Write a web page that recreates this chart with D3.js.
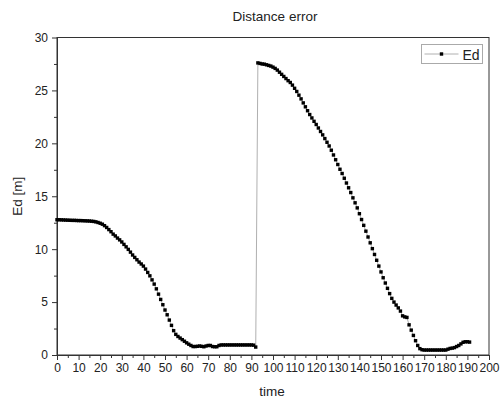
<!DOCTYPE html>
<html>
<head>
<meta charset="utf-8">
<script src="https://cdn.jsdelivr.net/npm/d3@7"></script>
<style>
  body { margin: 0; background: #fff; }
  svg { font-family: "Liberation Sans", Arial, sans-serif; }
</style>
</head>
<body>
<svg id="chart"></svg>
<script>
const width = 500;
const height = 400;

// time starts at 0, one sample per time step
const startTime = 0;
const edValues = [
  12.78, 12.78, 12.77, 12.76, 12.75, 12.74, 12.73, 12.72, 12.72, 12.71,
  12.70, 12.70, 12.69, 12.68, 12.67, 12.66, 12.64, 12.62, 12.58, 12.52,
  12.45, 12.36, 12.22, 12.05, 11.85, 11.65, 11.42, 11.25, 11.05, 10.88,
  10.68, 10.45, 10.22, 9.98, 9.72, 9.45, 9.22, 9.00, 8.78, 8.60,
  8.40, 8.12, 7.80, 7.48, 7.10, 6.70, 6.25, 5.75, 5.25, 4.75,
  4.25, 3.80, 3.30, 2.80, 2.30, 1.95, 1.75, 1.60, 1.45, 1.30,
  1.15, 1.02, 0.90, 0.80, 0.80, 0.82, 0.85, 0.82, 0.78, 0.85,
  0.90, 0.90, 0.80, 0.78, 0.78, 0.90, 0.95, 0.95, 0.95, 0.95,
  0.95, 0.95, 0.95, 0.95, 0.95, 0.95, 0.95, 0.95, 0.95, 0.95,
  0.95, 0.93, 0.75, 27.60, 27.55, 27.50, 27.48, 27.42, 27.36, 27.30,
  27.20, 27.08, 26.92, 26.72, 26.52, 26.32, 26.12, 25.92, 25.75, 25.50,
  25.20, 24.90, 24.55, 24.20, 23.82, 23.45, 23.08, 22.72, 22.40, 22.08,
  21.78, 21.45, 21.12, 20.80, 20.45, 20.10, 19.75, 19.35, 18.90, 18.45,
  18.00, 17.55, 17.15, 16.70, 16.25, 15.80, 15.35, 14.85, 14.38, 13.90,
  13.35, 12.80, 12.25, 11.70, 11.15, 10.60, 10.05, 9.50, 8.95, 8.40,
  7.85, 7.30, 6.80, 6.30, 5.80, 5.35, 5.00, 4.72, 4.45, 4.15,
  3.70, 3.60, 3.55, 2.85, 2.35, 1.85, 1.35, 0.90, 0.60, 0.50,
  0.47, 0.47, 0.47, 0.47, 0.47, 0.47, 0.47, 0.47, 0.47, 0.47,
  0.47, 0.55, 0.62, 0.65, 0.70, 0.80, 0.90, 1.05, 1.20, 1.25,
  1.25, 1.22
];

const xMajorTicks = [0, 10, 20, 30, 40, 50, 60, 70, 80, 90, 100, 110, 120, 130, 140, 150, 160, 170, 180, 190, 200];
const xMinorTicks = [5, 15, 25, 35, 45, 55, 65, 75, 85, 95, 105, 115, 125, 135, 145, 155, 165, 175, 185, 195];
const yMajorTicks = [0, 5, 10, 15, 20, 25, 30];
const yMinorTicks = [2.5, 7.5, 12.5, 17.5, 22.5, 27.5];

const data = edValues.map((v, i) => ({ t: startTime + i, v: v }));

const margin = { left: 57, right: 11, top: 37.5, bottom: 45 };

const svg = d3.select("#chart")
    .attr("width", width)
    .attr("height", height);

const x = d3.scaleLinear().domain([0, 200]).range([margin.left, width - margin.right]);
const y = d3.scaleLinear().domain([0, 30]).range([height - margin.bottom, margin.top]);

// frame
svg.append("rect")
    .attr("x", x(0))
    .attr("y", y(30))
    .attr("width", x(200) - x(0))
    .attr("height", y(0) - y(30))
    .attr("fill", "none")
    .attr("stroke", "#333")
    .attr("stroke-width", 1);

// x axis
svg.append("g")
    .attr("transform", `translate(0,${y(0)})`)
    .call(d3.axisBottom(x).tickValues(xMajorTicks).tickSize(5).tickSizeOuter(0).tickPadding(3).tickFormat(d3.format("d")));
svg.append("g")
    .attr("transform", `translate(0,${y(0)})`)
    .call(d3.axisBottom(x).tickValues(xMinorTicks).tickSize(3).tickSizeOuter(0).tickFormat(""))
    .select(".domain").remove();

// y axis
svg.append("g")
    .attr("transform", `translate(${x(0)},0)`)
    .call(d3.axisLeft(y).tickValues(yMajorTicks).tickSize(5).tickSizeOuter(0).tickPadding(4).tickFormat(d3.format("d")));
svg.append("g")
    .attr("transform", `translate(${x(0)},0)`)
    .call(d3.axisLeft(y).tickValues(yMinorTicks).tickSize(3).tickSizeOuter(0).tickFormat(""))
    .select(".domain").remove();

svg.selectAll(".tick text")
    .style("font-size", "12px")
    .attr("fill", "#222");
svg.selectAll(".domain, .tick line").attr("stroke", "#333");

// connecting line
const line = d3.line().x(d => x(d.t)).y(d => y(d.v));
svg.append("path")
    .datum(data)
    .attr("d", line)
    .attr("fill", "none")
    .attr("stroke", "#b0b0b0")
    .attr("stroke-width", 1);

// markers
const ms = 3.4;
svg.append("g")
    .selectAll("rect")
    .data(data)
    .enter()
    .append("rect")
    .attr("x", d => x(d.t) - ms / 2)
    .attr("y", d => y(d.v) - ms / 2)
    .attr("width", ms)
    .attr("height", ms)
    .attr("fill", "#000");

// title and labels
svg.append("text")
    .attr("x", 275)
    .attr("y", 21)
    .attr("text-anchor", "middle")
    .style("font-size", "13.5px")
    .attr("fill", "#222")
    .text("Distance error");

svg.append("text")
    .attr("x", 272)
    .attr("y", 396)
    .attr("text-anchor", "middle")
    .style("font-size", "13.5px")
    .attr("fill", "#222")
    .text("time");

svg.append("text")
    .attr("transform", `translate(22,${(y(0) + y(30)) / 2}) rotate(-90)`)
    .attr("text-anchor", "middle")
    .style("font-size", "13.5px")
    .attr("fill", "#222")
    .text("Ed [m]");

// legend
const legend = svg.append("g").attr("transform", "translate(421.5,44.5)");
legend.append("rect")
    .attr("width", 61)
    .attr("height", 19)
    .attr("fill", "#fff")
    .attr("stroke", "#aaa");
legend.append("line")
    .attr("x1", 3).attr("x2", 37)
    .attr("y1", 9.5).attr("y2", 9.5)
    .attr("stroke", "#b0b0b0");
legend.append("rect")
    .attr("x", 20 - ms / 2)
    .attr("y", 9.5 - ms / 2)
    .attr("width", ms)
    .attr("height", ms)
    .attr("fill", "#000");
legend.append("text")
    .attr("x", 41)
    .attr("y", 15)
    .style("font-size", "14px")
    .attr("fill", "#222")
    .text("Ed");
</script>
</body>
</html>
